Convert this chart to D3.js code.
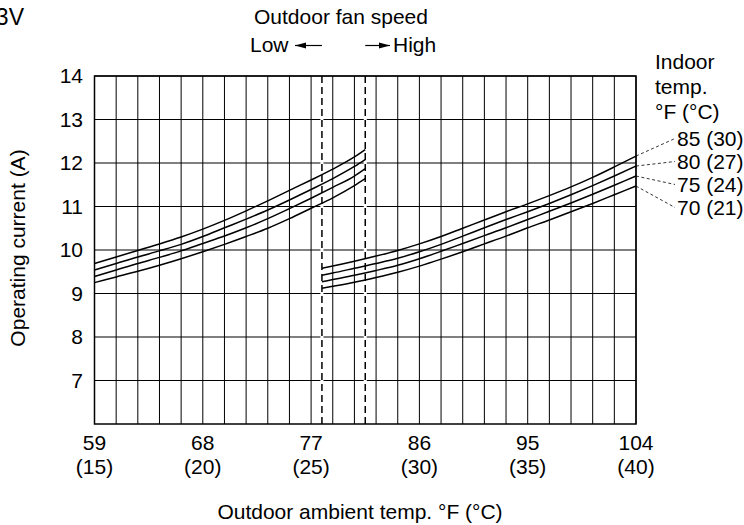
<!DOCTYPE html>
<meta charset="utf-8">
<style>
body { margin: 0; background: #fff; }
text { font-family: "Liberation Sans", Arial, Helvetica, sans-serif; fill: #000; }
</style>
<body>
<svg width="744" height="525"></svg>
<script src="https://d3js.org/d3.v7.min.js"></script>
<script>

// outdoor temp in deg C (gridlines every 1 C)
var tickCelsius = [15, 20, 25, 30, 35, 40];
var tickFahrenheit = [59, 68, 77, 86, 95, 104];
var yTicks = [7, 8, 9, 10, 11, 12, 13, 14];
var fanBreaks = [25.5, 27.5];

// low fan speed part
var lowTemps = [15, 16, 17, 18, 19, 20, 21, 22, 23, 24, 25, 26, 27, 27.5];
var low85 = [9.69, 9.84, 9.99, 10.14, 10.30, 10.48, 10.68, 10.90, 11.13, 11.37, 11.61, 11.86, 12.14, 12.31];
var low80 = [9.54, 9.69, 9.84, 9.98, 10.13, 10.31, 10.51, 10.71, 10.92, 11.15, 11.39, 11.64, 11.92, 12.08];
var low75 = [9.39, 9.54, 9.69, 9.83, 9.98, 10.15, 10.32, 10.51, 10.72, 10.95, 11.19, 11.44, 11.70, 11.87];
var low70 = [9.25, 9.38, 9.51, 9.65, 9.80, 9.96, 10.13, 10.31, 10.50, 10.72, 10.96, 11.20, 11.48, 11.64];

// high fan speed part
var highTemps = [25.5, 26, 27, 28, 29, 30, 31, 32, 33, 34, 35, 36, 37, 38, 39, 40];
var high85 = [9.58, 9.63, 9.74, 9.86, 9.99, 10.14, 10.31, 10.50, 10.69, 10.88, 11.06, 11.25, 11.45, 11.67, 11.91, 12.16];
var high80 = [9.42, 9.47, 9.58, 9.69, 9.81, 9.96, 10.13, 10.32, 10.51, 10.70, 10.88, 11.07, 11.27, 11.48, 11.70, 11.93];
var high75 = [9.27, 9.32, 9.42, 9.53, 9.65, 9.80, 9.97, 10.15, 10.33, 10.51, 10.70, 10.89, 11.08, 11.28, 11.49, 11.70];
var high70 = [9.12, 9.165, 9.26, 9.37, 9.49, 9.63, 9.79, 9.96, 10.14, 10.32, 10.51, 10.69, 10.88, 11.07, 11.27, 11.47];

var indoorLabels = ["85 (30)", "80 (27)", "75 (24)", "70 (21)"];

var svg = d3.select("svg"),
    pLeft = 94.5, pRight = 636, pTop = 76, pBottom = 424,
    fs = 21;

var x = d3.scaleLinear().domain([15, 40]).range([pLeft, pRight]);
var y = d3.scaleLinear().domain([6, 14]).range([pBottom, pTop]);

// grid
var grid = svg.append("g").attr("stroke", "#000").attr("stroke-width", 1);

grid.selectAll(".vx")
    .data(x.ticks(25))
  .enter().append("line")
    .attr("x1", function(d) { return x(d); })
    .attr("x2", function(d) { return x(d); })
    .attr("y1", pTop)
    .attr("y2", pBottom);

grid.selectAll(".hy")
    .data(yTicks)
  .enter().append("line")
    .attr("x1", pLeft)
    .attr("x2", pRight)
    .attr("y1", function(d) { return y(d); })
    .attr("y2", function(d) { return y(d); });

grid.append("rect")
    .attr("x", pLeft).attr("y", pTop)
    .attr("width", pRight - pLeft).attr("height", pBottom - pTop)
    .attr("fill", "none")
    .attr("stroke-width", 1.5);

// fan speed change lines
svg.selectAll(".fan")
    .data(fanBreaks)
  .enter().append("line")
    .attr("x1", function(d) { return x(d); })
    .attr("x2", function(d) { return x(d); })
    .attr("y1", pTop + 1)
    .attr("y2", pBottom - 1)
    .attr("stroke", "#fff")
    .attr("stroke-width", 3);

svg.selectAll(".fanDash")
    .data(fanBreaks)
  .enter().append("line")
    .attr("x1", function(d) { return x(d); })
    .attr("x2", function(d) { return x(d); })
    .attr("y1", pTop)
    .attr("y2", pBottom)
    .attr("stroke", "#000")
    .attr("stroke-width", 1.5)
    .attr("stroke-dasharray", "7,4");

// curves
var line = d3.line().curve(d3.curveMonotoneX);

function drawCurves(temps, series) {
  svg.append("g")
    .selectAll("path")
    .data(series)
    .enter().append("path")
      .attr("fill", "none")
      .attr("stroke", "#000")
      .attr("stroke-width", 1.5)
      .attr("d", function(s) {
        return line(temps.map(function(t, i) { return [x(t), y(s[i])]; }));
      });
}
drawCurves(lowTemps, [low85, low80, low75, low70]);
drawCurves(highTemps, [high85, high80, high75, high70]);

// y axis labels
svg.selectAll(".ylab")
    .data(yTicks)
  .enter().append("text")
    .attr("x", 83)
    .attr("y", function(d) { return y(d); })
    .attr("dy", "0.35em")
    .attr("text-anchor", "end")
    .attr("font-size", fs)
    .text(function(d) { return d; });

svg.append("text")
    .attr("transform", "translate(25,248) rotate(-90)")
    .attr("text-anchor", "middle")
    .attr("font-size", fs)
    .text("Operating current (A)");

// x axis labels
svg.selectAll(".xf")
    .data(tickCelsius)
  .enter().append("text")
    .attr("x", function(d) { return x(d); })
    .attr("y", 450)
    .attr("text-anchor", "middle")
    .attr("font-size", fs)
    .text(function(d, i) { return tickFahrenheit[i]; });

svg.selectAll(".xc")
    .data(tickCelsius)
  .enter().append("text")
    .attr("x", function(d) { return x(d); })
    .attr("y", 474)
    .attr("text-anchor", "middle")
    .attr("font-size", fs)
    .text(function(d) { return "(" + d + ")"; });

svg.append("text")
    .attr("x", 360)
    .attr("y", 519)
    .attr("text-anchor", "middle")
    .attr("font-size", fs)
    .text("Outdoor ambient temp. \u00b0F (\u00b0C)");

// top texts
svg.append("text")
    .attr("x", 24).attr("y", 25)
    .attr("text-anchor", "end")
    .attr("font-size", 23)
    .text("3V");

svg.append("text")
    .attr("x", 341).attr("y", 24)
    .attr("text-anchor", "middle")
    .attr("font-size", fs)
    .text("Outdoor fan speed");

svg.append("text")
    .attr("x", 250).attr("y", 52)
    .attr("font-size", fs)
    .text("Low");

svg.append("text")
    .attr("x", 393).attr("y", 52)
    .attr("font-size", fs)
    .text("High");

// arrows
var arrows = [[x(fanBreaks[0]), 295], [x(fanBreaks[1]), 390]];
arrows.forEach(function(a) {
  var x0 = a[0], x1 = a[1], dir = x1 > x0 ? 1 : -1, ay = 45.5;
  svg.append("line")
      .attr("x1", x0).attr("x2", x1)
      .attr("y1", ay).attr("y2", ay)
      .attr("stroke", "#000").attr("stroke-width", 1.2);
  svg.append("path")
      .attr("d", "M" + x1 + "," + ay + "L" + (x1 - dir * 11) + "," + (ay - 3) + "L" + (x1 - dir * 11) + "," + (ay + 3) + "Z")
      .attr("fill", "#000");
});

// legend
var legendHead = ["Indoor", "temp.", "\u00b0F (\u00b0C)"];
svg.selectAll(".lh")
    .data(legendHead)
  .enter().append("text")
    .attr("x", 655)
    .attr("y", function(d, i) { return 69 + i * 25; })
    .attr("font-size", fs)
    .text(function(d) { return d; });

var ends = [high85, high80, high75, high70];
indoorLabels.forEach(function(lab, i) {
  var ly = 138.5 + i * 23;
  svg.append("line")
      .attr("x1", x(40)).attr("y1", y(ends[i][ends[i].length - 1]))
      .attr("x2", 675).attr("y2", ly)
      .attr("stroke", "#000")
      .attr("stroke-width", 0.8)
      .attr("stroke-dasharray", "3,2.5");
  svg.append("text")
      .attr("x", 677)
      .attr("y", ly)
      .attr("dy", "0.35em")
      .attr("font-size", fs)
      .text(lab);
});

</script>
</body>
